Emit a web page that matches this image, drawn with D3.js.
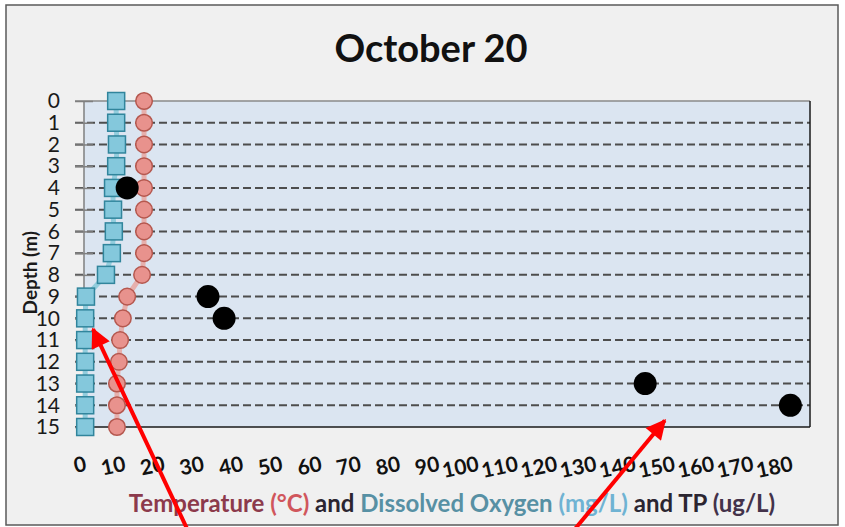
<!DOCTYPE html>
<html>
<head>
<meta charset="utf-8">
<script src="https://cdn.jsdelivr.net/npm/d3@7"></script>
<style>
  html, body { margin: 0; padding: 0; background: #ffffff; }
  svg text { font-family: Lato, "Open Sans", sans-serif; }
</style>
</head>
<body>
<div id="chart"></div>
<script>
//Datos
const depths = [0, 1, 2, 3, 4, 5, 6, 7, 8, 9, 10, 11, 12, 13, 14, 15];
const temperature = [15.3, 15.3, 15.3, 15.3, 15.3, 15.3, 15.3, 15.3, 14.8, 11.0, 9.9, 9.2, 8.9, 8.4, 8.4, 8.4];
const oxygen = [8.2, 8.2, 8.4, 8.2, 7.4, 7.4, 7.6, 7.1, 5.6, 0.5, 0.3, 0.3, 0.3, 0.3, 0.3, 0.3];
const tpDepths = [4, 9, 10, 13, 14];
const tpValues = [11.0, 31.6, 35.7, 143, 180];
const xTicks = [0, 10, 20, 30, 40, 50, 60, 70, 80, 90, 100, 110, 120, 130, 140, 150, 160, 170, 180];
//Flechas rojas (punta en coordenadas de datos)
const arrowTips = [{x: 2.3, d: 10.5}, {x: 148, d: 14.7}];

const W = 845, H = 527;
const margin = {top: 101, right: 35, bottom: 100, left: 84};

let svg = d3.select('#chart').append('svg')
    .attr('width', W)
    .attr('height', H);

//Marco exterior
svg.append('rect')
    .attr('x', 6).attr('y', 5)
    .attr('width', 832).attr('height', 520)
    .attr('fill', '#f0f0f0')
    .attr('stroke', '#5a5a5a')
    .attr('stroke-width', 1.5);

let x = d3.scaleLinear().domain([0, 185]).range([margin.left, W - margin.right]);
let y = d3.scaleLinear().domain([0, 15]).range([margin.top, H - margin.bottom]);

//Fondo del área
svg.append('rect')
    .attr('x', x(0)).attr('y', y(0))
    .attr('width', x(185) - x(0)).attr('height', y(15) - y(0))
    .attr('fill', '#dbe5f1');

//Líneas de cuadrícula discontinuas
svg.append('g').selectAll('line')
    .data(depths.filter(d => d > 0 && d < 15))
    .enter().append('line')
    .attr('x1', x(0) - 9).attr('x2', x(185))
    .attr('y1', d => y(d)).attr('y2', d => y(d))
    .attr('stroke', '#4d4d4d')
    .attr('stroke-width', 2)
    .attr('stroke-dasharray', '8,4');

//Borde superior, derecho e inferior
svg.append('line')
    .attr('x1', x(0) - 9).attr('x2', x(185))
    .attr('y1', y(0)).attr('y2', y(0))
    .attr('stroke', '#8a8a8a').attr('stroke-width', 1.5);
svg.append('line')
    .attr('x1', x(185)).attr('x2', x(185))
    .attr('y1', y(0)).attr('y2', y(15))
    .attr('stroke', '#1a1a1a').attr('stroke-width', 1.5);
svg.append('line')
    .attr('x1', x(0) - 9).attr('x2', x(185))
    .attr('y1', y(15)).attr('y2', y(15))
    .attr('stroke', '#1a1a1a').attr('stroke-width', 1.5);

//Eje Y
let yAxis = function(g) {
    g.call(d3.axisLeft(y).tickValues(depths).tickSize(9).tickPadding(15));
    g.select('.domain').attr('stroke', '#7f7f7f').attr('stroke-width', 1.5)
        .attr('d', 'M0,' + y(0) + 'V' + y(15));
    g.selectAll('.tick line').attr('stroke', '#7f7f7f').attr('stroke-width', 1.5)
        .attr('x1', 9);
    g.selectAll('.tick text')
        .attr('font-size', '21px')
        .attr('fill', '#1a1a1a');
}
svg.append('g')
    .attr('transform', 'translate(' + x(0) + ',0)')
    .call(yAxis);

//Eje X (etiquetas giradas)
let xAxis = function(g) {
    g.call(d3.axisBottom(x).tickValues(xTicks).tickSize(0));
    g.select('.domain').remove();
    g.selectAll('.tick text')
        .attr('font-size', '21px')
        .attr('font-weight', 'bold')
        .attr('fill', '#111')
        .attr('text-anchor', 'end')
        .attr('dy', 0)
        .attr('y', 0)
        .attr('x', 3)
        .attr('transform', 'translate(0,44) rotate(-12)');
}
svg.append('g')
    .attr('transform', 'translate(0,' + y(15) + ')')
    .call(xAxis);

//Líneas de series
let lineT = d3.line().x((d, i) => x(temperature[i])).y(d => y(d));
let lineO = d3.line().x((d, i) => x(oxygen[i])).y(d => y(d));

svg.append('path').datum(depths)
    .attr('d', lineO)
    .attr('fill', 'none')
    .attr('stroke', '#93cddd')
    .attr('stroke-width', 5);
svg.append('path').datum(depths)
    .attr('d', lineT)
    .attr('fill', 'none')
    .attr('stroke', '#e6b0ad')
    .attr('stroke-width', 5);

//Oxígeno disuelto (cuadrados)
svg.selectAll('.sq')
    .data(depths)
    .enter().append('rect')
    .attr('class', 'sq')
    .attr('x', (d, i) => x(oxygen[i]) - 8.5)
    .attr('y', d => y(d) - 8.5)
    .attr('width', 17).attr('height', 17)
    .attr('fill', '#84c8dc')
    .attr('stroke', '#31859c')
    .attr('stroke-width', 1.5);

//Temperatura (círculos)
svg.selectAll('.ci')
    .data(depths)
    .enter().append('circle')
    .attr('class', 'ci')
    .attr('cx', (d, i) => x(temperature[i]))
    .attr('cy', d => y(d))
    .attr('r', 8.3)
    .attr('fill', '#e8928d')
    .attr('stroke', '#b5584f')
    .attr('stroke-width', 1.5);

//TP (puntos negros)
svg.selectAll('.tp')
    .data(tpDepths)
    .enter().append('circle')
    .attr('class', 'tp')
    .attr('cx', (d, i) => x(tpValues[i]))
    .attr('cy', d => y(d))
    .attr('r', 11.5)
    .attr('fill', '#000');

//Título
svg.append('text')
    .attr('x', 431).attr('y', 62)
    .attr('text-anchor', 'middle')
    .attr('font-size', '38px')
    .attr('font-weight', 'bold')
    .attr('fill', '#111')
    .text('October 20');

//Título del eje Y
svg.append('text')
    .attr('transform', 'translate(37,' + y(7.9) + ') rotate(-90)')
    .attr('text-anchor', 'middle')
    .attr('font-size', '19px')
    .attr('font-weight', 'bold')
    .attr('fill', '#1a1a1a')
    .text('Depth (m)');

//Título del eje X en colores
let xt = svg.append('text')
    .attr('x', 452).attr('y', 512)
    .attr('text-anchor', 'middle')
    .attr('font-size', '24px')
    .attr('font-weight', 'bold');
[['Temperature ', '#8c3a4c'], ['(°C)', '#d0565c'], [' and ', '#2b2530'],
 ['Dissolved Oxygen ', '#5790a4'], ['(mg/L)', '#6fb3d3'], [' and TP ', '#2b2530'], ['(ug/L)', '#43324a']]
    .forEach(function(p) { xt.append('tspan').attr('fill', p[1]).text(p[0]); });

//Flechas rojas
svg.append('defs').append('marker')
    .attr('id', 'head')
    .attr('viewBox', '0 0 10 10')
    .attr('refX', 9).attr('refY', 5)
    .attr('markerWidth', 5.5).attr('markerHeight', 5)
    .attr('orient', 'auto')
    .append('path').attr('d', 'M0,0L10,5L0,10Z').attr('fill', '#ff0000');

let tails = [{x: 190, y: 535}, {x: 570, y: 535}];
svg.selectAll('.arrow')
    .data(arrowTips)
    .enter().append('line')
    .attr('class', 'arrow')
    .attr('x1', (d, i) => tails[i].x).attr('y1', (d, i) => tails[i].y)
    .attr('x2', d => x(d.x)).attr('y2', d => y(d.d))
    .attr('stroke', '#ff0000')
    .attr('stroke-width', 4)
    .attr('marker-end', 'url(#head)');
</script>
</body>
</html>
